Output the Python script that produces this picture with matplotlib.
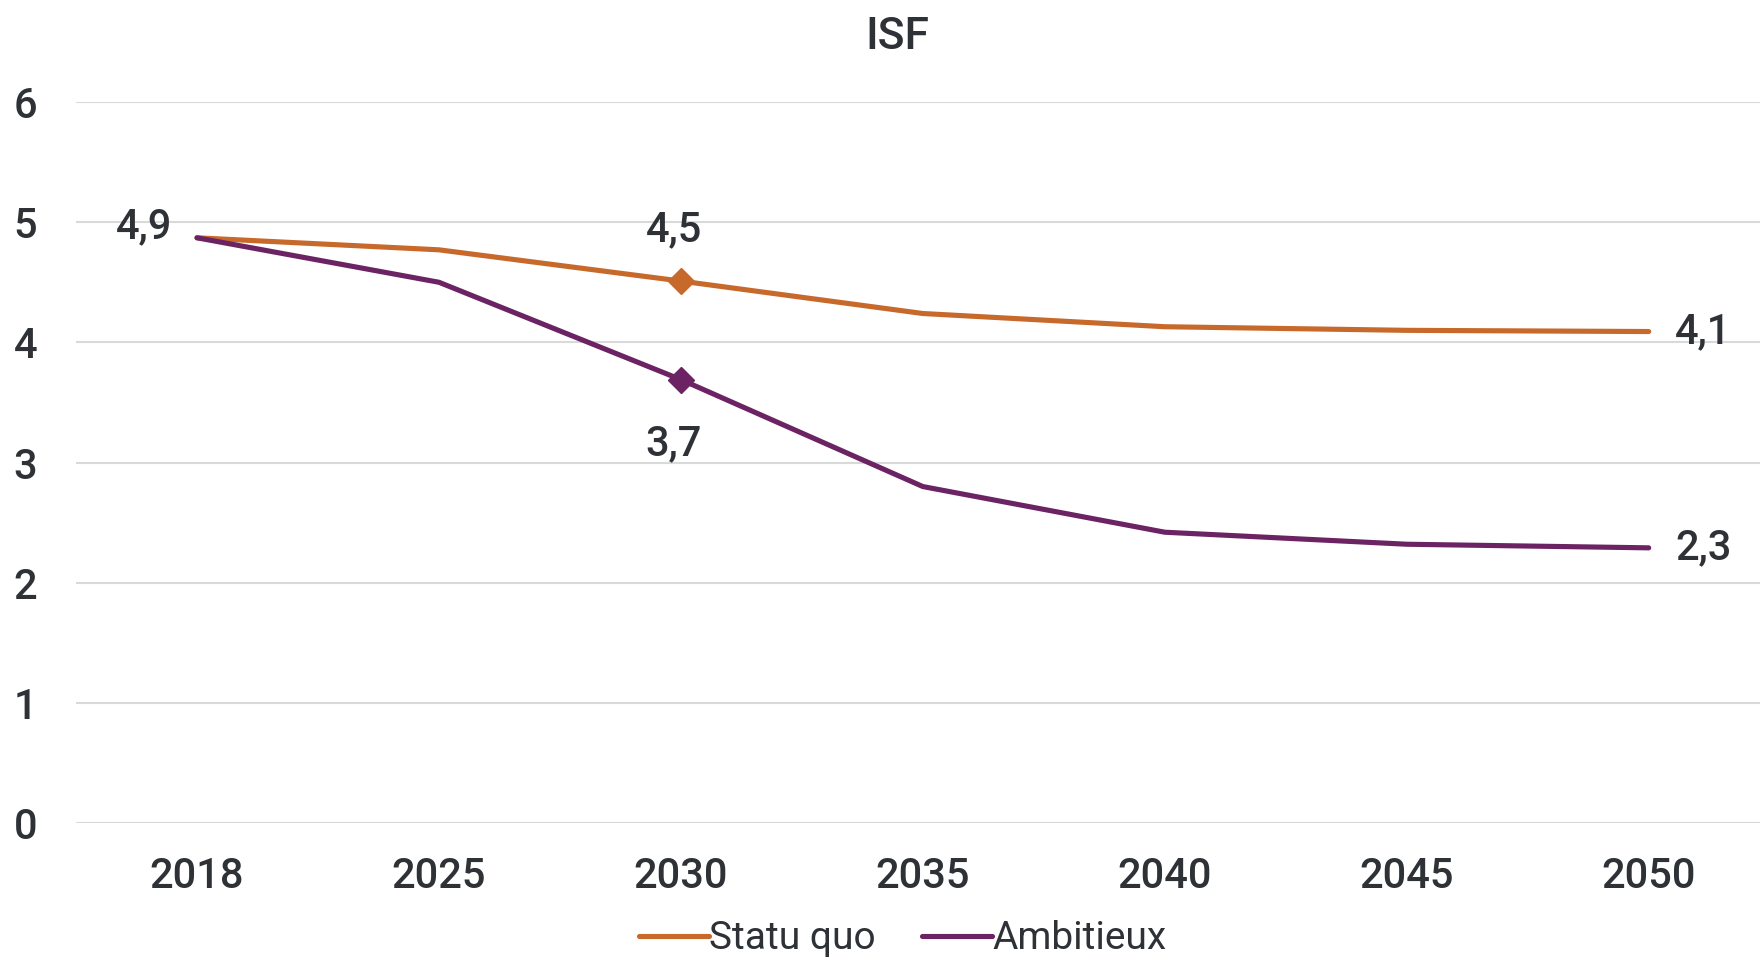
import matplotlib
matplotlib.use("Agg")
import matplotlib.pyplot as plt

plt.rcParams["font.family"] = ["Roboto", "DejaVu Sans"]

# data
years = ["2018", "2025", "2030", "2035", "2040", "2045", "2050"]
statu_quo = [4.87, 4.77, 4.51, 4.24, 4.13, 4.10, 4.09]
ambitieux = [4.87, 4.50, 3.69, 2.80, 2.42, 2.32, 2.29]
series_names = ["Statu quo", "Ambitieux"]

ORANGE = "#C8692C"
PURPLE = "#6B2363"
TEXT = "#2E3236"
GRID = "#D9D9D9"

fig = plt.figure(figsize=(17.6, 9.66), dpi=100)
ax = fig.add_axes([0.0432, 0.148, 0.9568, 0.7464])

x = list(range(len(years)))
ax.plot(x, statu_quo, color=ORANGE, lw=3.7, solid_capstyle="round",
        label=series_names[0], zorder=3)
ax.plot(x, ambitieux, color=PURPLE, lw=3.7, solid_capstyle="round",
        label=series_names[1], zorder=3)

# diamond markers at 2030 only
ax.plot(x[2], statu_quo[2], marker="D", ms=13, color=ORANGE, zorder=4)
ax.plot(x[2], ambitieux[2], marker="D", ms=13, color=PURPLE, zorder=4)

fs = 30
fw = "medium"


def fmt(v):
    return f"{v:.1f}".replace(".", ",")


labels = [
    (statu_quo[0], 0, (-18, 8), "right"),
    (statu_quo[2], 2, (-5, 37), "center"),
    (ambitieux[2], 2, (-5, -46), "center"),
    (statu_quo[-1], 6, (19, 0), "left"),
    (ambitieux[-1], 6, (19, 0), "left"),
]
for v, i, off, ha in labels:
    ax.annotate(fmt(v), (x[i], v), xytext=off, textcoords="offset points",
                ha=ha, va="center", fontsize=fs, color=TEXT, fontweight=fw)

ax.set_xlim(-0.5, 6.46)
ax.set_ylim(0, 6)
ax.set_xticks(x)
ax.set_xticklabels(years)
ax.set_yticks(range(0, 7))
ax.tick_params(axis="both", length=0, labelsize=fs, labelcolor=TEXT)
ax.tick_params(axis="y", pad=28)
ax.tick_params(axis="x", pad=24)
for t in ax.get_xticklabels() + ax.get_yticklabels():
    t.set_fontweight(fw)

ax.grid(axis="y", color=GRID, lw=1.5, zorder=0)
for s in ax.spines.values():
    s.set_visible(False)

fig.text(0.51, 0.962, "ISF", ha="center", va="center", fontsize=32,
         color=TEXT, fontweight=fw)

leg = fig.legend(loc="center", bbox_to_anchor=(0.513, 0.028), ncol=2,
                 frameon=False, fontsize=28, labelcolor=TEXT, handlelength=1.8,
                 handletextpad=0.0, columnspacing=1.2, borderpad=0.2)

fig.savefig("out.png", dpi=100)
